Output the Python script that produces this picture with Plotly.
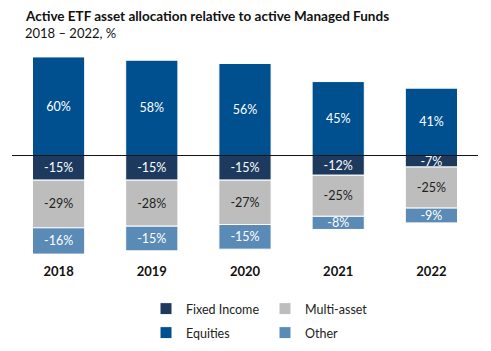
import plotly.graph_objects as go

years = ["2018", "2019", "2020", "2021", "2022"]
equities = [60, 58, 56, 45, 41]
fixed_income = [-15, -15, -15, -12, -7]
multi_asset = [-29, -28, -27, -25, -25]
other = [-16, -15, -15, -8, -9]

FONT = "Lato, 'Open Sans', sans-serif"

fig = go.Figure()

def add(name, vals, color, txtcolor, legend):
    fig.add_trace(go.Bar(
        x=years, y=vals, name=name, legend=legend,
        text=[f"{v}%" for v in vals], texttemplate="%{text}",
        marker=dict(color=color, line=dict(color="white", width=1)),
        textposition="inside", insidetextanchor="middle",
        textfont=dict(color=txtcolor, size=12.5, family=FONT),
        constraintext="none", width=0.56,
    ))

add("Equities", equities, "#00508F", "white", "legend2")
add("Fixed Income", fixed_income, "#1D3A5E", "white", "legend")
add("Multi-asset", multi_asset, "#BDBDBD", "#222222", "legend")
add("Other", other, "#5A8BB7", "white", "legend2")

fig.add_shape(type="line", xref="paper", yref="y", x0=0, x1=1, y0=0, y1=0,
              line=dict(color="#111111", width=1))

fig.add_annotation(text="<b>Active ETF asset allocation relative to active Managed Funds</b>",
                   xref="paper", yref="paper", x=(23 - 12) / 466, y=1 + (40 - 16) / 222,
                   xanchor="left", yanchor="middle", showarrow=False,
                   font=dict(family=FONT, size=13.5, color="#111111"))
fig.add_annotation(text="2018 – 2022, %",
                   xref="paper", yref="paper", x=(23 - 12) / 466, y=1 + (40 - 33) / 222,
                   xanchor="left", yanchor="middle", showarrow=False,
                   font=dict(family=FONT, size=13, color="#111111"))

fig.update_layout(
    width=491, height=351,
    barmode="relative", bargap=0.44,
    plot_bgcolor="white", paper_bgcolor="white",
    margin=dict(l=12, r=13, t=40, b=89),
    font=dict(family=FONT, size=12, color="#222222"),
    uniformtext=dict(minsize=12, mode="show"),
    xaxis=dict(showgrid=False, showline=False, ticks="",
               tickfont=dict(family=FONT, size=13, color="#111111", weight="bold")),
    yaxis=dict(range=[-64.8, 70.3], visible=False, showgrid=False, zeroline=False),
    legend=dict(orientation="h", x=146/491, y=1 - 294/351, xref="container", yref="container",
                xanchor="left", yanchor="top", entrywidth=74, itemwidth=30, font=dict(size=12.5),
                traceorder="normal"),
    legend2=dict(orientation="h", x=146/491, y=1 - 318/351, xref="container", yref="container",
                 xanchor="left", yanchor="top", entrywidth=74, itemwidth=30, font=dict(size=12.5),
                 traceorder="normal"),
)

fig.write_html("out.html")
